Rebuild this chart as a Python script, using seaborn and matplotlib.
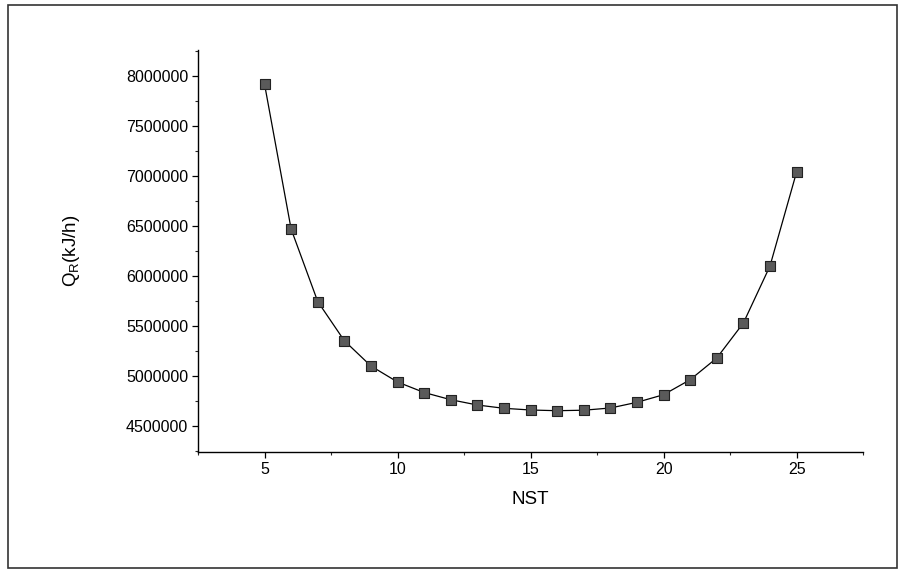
import numpy as np
import pandas as pd
import matplotlib
matplotlib.use("Agg")
import matplotlib.pyplot as plt
import seaborn as sns
from matplotlib.patches import Rectangle
from matplotlib.ticker import MultipleLocator

sns.set_theme(style="ticks")
plt.rcParams["font.family"] = ["Liberation Sans", "DejaVu Sans"]
plt.rcParams["mathtext.fontset"] = "custom"
plt.rcParams["mathtext.rm"] = "Liberation Sans"
plt.rcParams["mathtext.it"] = "Liberation Sans"

# values
nst = [5, 6, 7, 8, 9, 10, 11, 12, 13, 14, 15, 16, 17, 18, 19, 20, 21, 22, 23, 24, 25]
qr = [7920000, 6470000, 5745000, 5353000, 5100000, 4940000, 4835000, 4763000,
      4710000, 4677000, 4660000, 4653000, 4658000, 4680000, 4737000, 4813000,
      4963000, 5180000, 5530000, 6100000, 7040000]

df = pd.DataFrame({"NST": nst, "QR": qr})

fig = plt.figure(figsize=(9, 5.71), dpi=100, facecolor="white")
ax = fig.add_axes([0.22, 0.2084, 0.739, 0.704])

sns.lineplot(data=df, x="NST", y="QR", color="black", linewidth=0.9, ax=ax)
sns.scatterplot(data=df, x="NST", y="QR", marker="s", s=55, color="#5a5a5a",
                edgecolor="#222222", linewidth=0.8, zorder=3, ax=ax)

ax.set_xlim(2.5, 27.5)
ax.set_ylim(4240000, 8260000)
ax.xaxis.set_major_locator(MultipleLocator(5))
ax.xaxis.set_minor_locator(MultipleLocator(2.5))
ax.yaxis.set_major_locator(MultipleLocator(500000))
ax.yaxis.set_minor_locator(MultipleLocator(250000))
ax.ticklabel_format(axis="y", style="plain", useOffset=False)

ax.tick_params(which="major", direction="out", length=4, width=0.9,
               labelsize=11.5, colors="black", pad=3)
ax.tick_params(which="minor", direction="out", length=2.5, width=0.8)

for side in ["top", "right"]:
    ax.spines[side].set_visible(False)
for side in ["left", "bottom"]:
    ax.spines[side].set_linewidth(1.0)
    ax.spines[side].set_color("black")

ax.set_xlabel("NST", fontsize=13.5, labelpad=10, color="black")
ax.set_ylabel(r"$\mathregular{Q_R}$(kJ/h)", fontsize=13.5, labelpad=32, color="black")

# outer frame around the whole picture
fig.patches.append(Rectangle((0.009, 0.005), 0.988, 0.986, transform=fig.transFigure,
                             fill=False, edgecolor="#333333", linewidth=1.2))

fig.savefig("out.png", dpi=100, facecolor="white")
